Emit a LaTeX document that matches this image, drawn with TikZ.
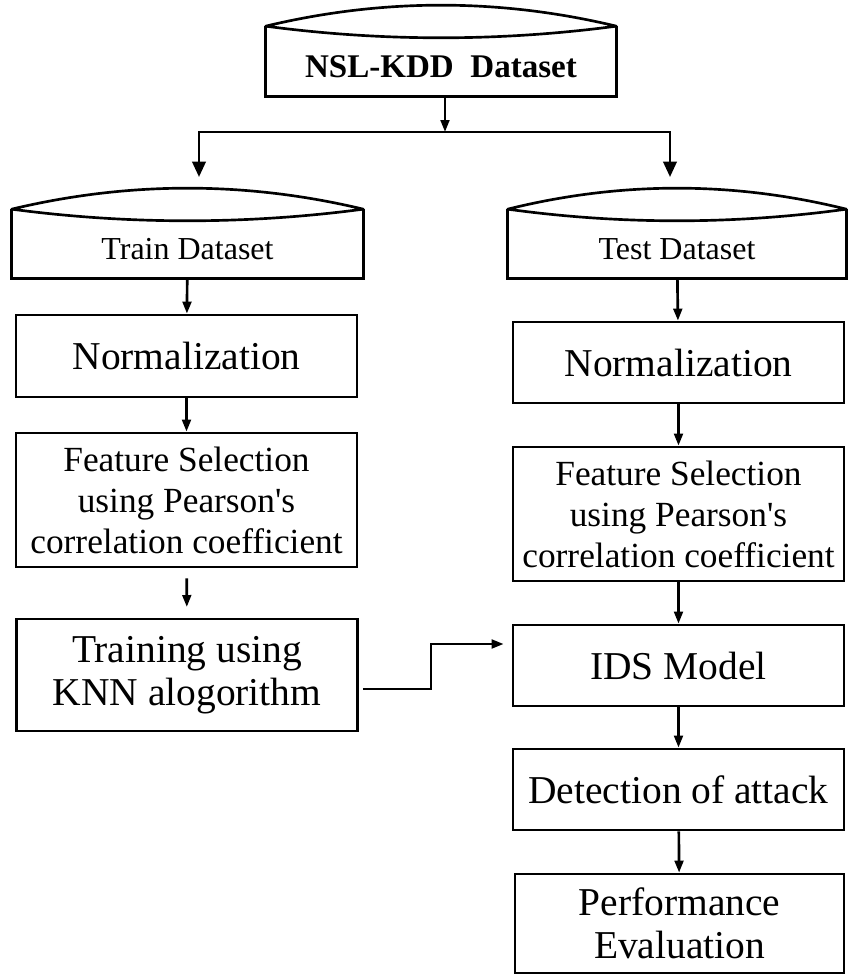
\documentclass[tikz,border=0pt]{standalone}
\usepackage{fontspec}
\setmainfont{Liberation Serif}
\usetikzlibrary{arrows.meta,calc}

\newcommand{\dsfont}{\fontsize{24}{28}\selectfont}
\newcommand{\featfont}{\fontsize{26.5}{30.75}\selectfont}
\newcommand{\bigfont}{\fontsize{29.6}{32.25}\selectfont}

% open top of a dataset drum, drawn round a named node
\newcommand{\dbshape}[1]{%
  \coordinate (#1-l) at ($(#1.north west)+(0,-11.5)$);
  \coordinate (#1-r) at ($(#1.north east)+(0,-11.5)$);
  \draw (#1-l) -- (#1.south west) -- (#1.south east) -- (#1-r);
  \draw [line join=round] (#1-l) .. controls ($(#1-l)!1/3!(#1-r)+(0,-28)$) and ($(#1-l)!2/3!(#1-r)+(0,-28)$) .. (#1-r)
     .. controls ($(#1-l)!2/3!(#1-r)+(0,15.5)$) and ($(#1-l)!1/3!(#1-r)+(0,15.5)$) .. (#1-l) -- cycle;
}

\tikzset{every picture/.style={line width=2pt}}
\tikzset{
  dataset/.style={inner sep=0pt, align=center, font=\dsfont},
  stepbox/.style={draw, inner sep=0pt, align=center, font=\bigfont},
  featbox/.style={stepbox, font=\featfont},
  arr/.style={-{Triangle[length=9pt,width=6.5pt]}},
  bigarr/.style={-{Triangle[length=11.5pt,width=10pt]}},
}

\begin{document}
\begin{tikzpicture}[x=0.75pt,y=0.75pt,yscale=-1,xscale=1]
\useasboundingbox (0,0) rectangle (847,975);

%Shape: Datasets
\node [dataset, minimum width=261pt, minimum height=42pt, font={\fontsize{24.8}{28}\selectfont\bfseries}] (nsl) at (441,67) {NSL-KDD\ \ Dataset};
\node [dataset, minimum width=261.75pt, minimum height=41.25pt] (train) at (187.5,249.5) {Train Dataset};
\node [dataset, minimum width=252pt, minimum height=41.25pt] (test) at (677,249.5) {Test Dataset};
\dbshape{nsl}
\dbshape{train}
\dbshape{test}

%Shape: Train side
\node [stepbox, minimum width=255.75pt, minimum height=61.5pt] (normtr) at (186.5,356) {Normalization};
\node [featbox, minimum width=255.75pt, minimum height=100.5pt] (feattr) at (186.5,500) {Feature Selection\\using Pearson\textquotesingle s\\correlation coefficient};
\node [stepbox, minimum width=255.75pt, minimum height=84pt] (knn) at (187,675) {Training using\\KNN alogorithm};

%Shape: Test side
\node [stepbox, minimum width=248.25pt, minimum height=60.75pt] (normts) at (678.5,362.5) {Normalization};
\node [featbox, minimum width=248.25pt, minimum height=100.5pt] (featts) at (678.5,514) {Feature Selection\\using Pearson\textquotesingle s\\correlation coefficient};
\node [stepbox, minimum width=248.25pt, minimum height=60.75pt] (ids) at (678.5,665.5) {IDS Model};
\node [stepbox, minimum width=248.25pt, minimum height=60.75pt] (detect) at (678.5,789.5) {Detection of attack};
\node [stepbox, minimum width=246.75pt, minimum height=74.25pt] (perf) at (679.5,923.5) {Performance\\Evaluation};

%Straight Lines: split
\coordinate (split) at (445,132);
\coordinate (trin) at (199,177);
\coordinate (tsin) at (670,177);
\draw [arr] (nsl.south -| split) -- (split);
\draw [bigarr] (split) -| (trin);
\draw [bigarr] (split) -| (tsin);

%Straight Lines: train side
\draw [arr] (train) -- (normtr);
\draw [arr] (normtr) -- (feattr);
\draw [arr, shorten <=7.5pt, shorten >=8pt] (feattr) -- (knn);
\draw [arr] ($(knn.east)+(4,14)$) -- ++(68,0) |- ($(ids.west)+(-8,-21.5)$);

%Straight Lines: test side
\draw [arr] (test) -- (normts);
\draw [arr] (normts) -- (featts);
\draw [arr] (featts) -- (ids);
\draw [arr] (ids) -- (detect);
\draw [arr] (detect) -- (perf);

\end{tikzpicture}
\end{document}
